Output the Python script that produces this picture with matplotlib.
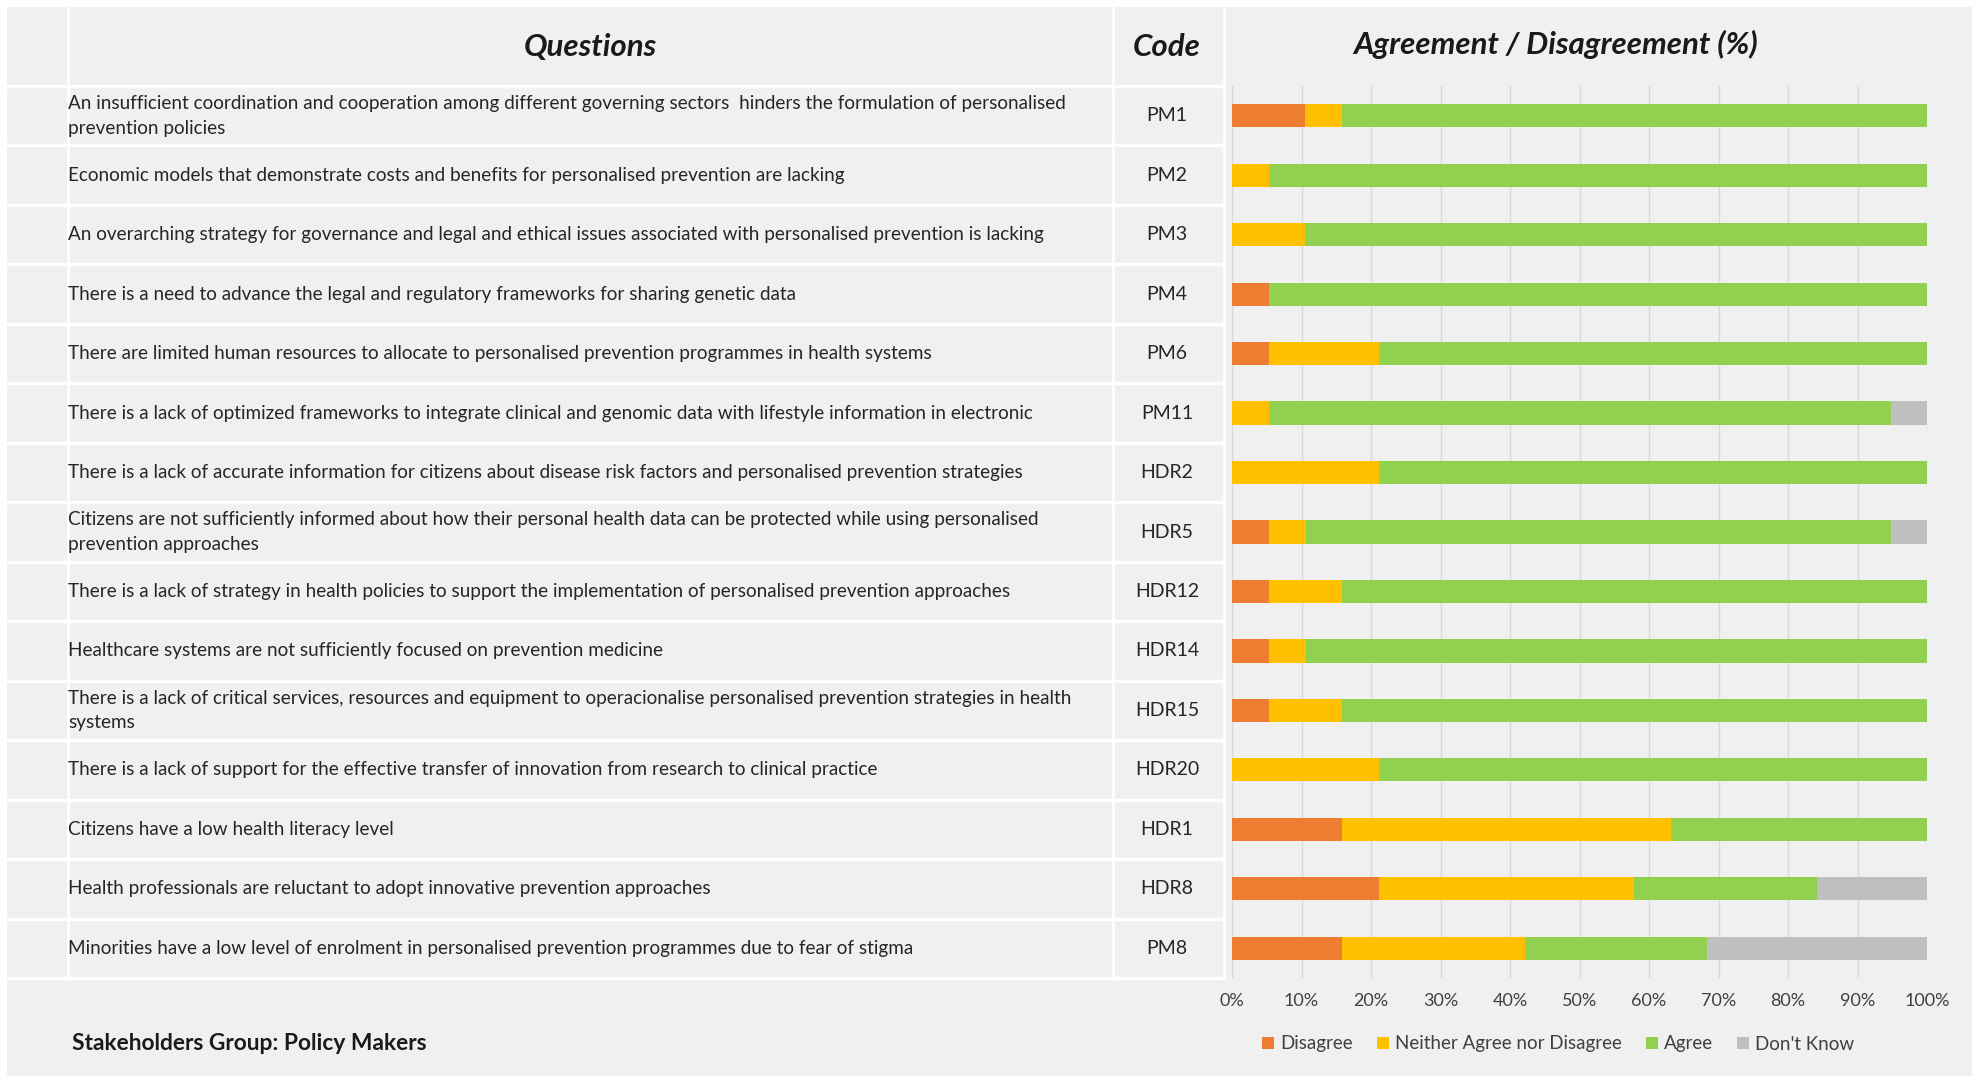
import numpy as np
import matplotlib
matplotlib.use('Agg')
import matplotlib.pyplot as plt
from matplotlib import transforms
from matplotlib.lines import Line2D
from matplotlib.patches import Rectangle, Patch

plt.rcParams['font.family'] = ['Lato', 'DejaVu Sans']

# survey statements, their codes and answer shares (%)
questions = [
    "An insufficient coordination and cooperation among different governing sectors  hinders the formulation of personalised\nprevention policies",
    "Economic models that demonstrate costs and benefits for personalised prevention are lacking",
    "An overarching strategy for governance and legal and ethical issues associated with personalised prevention is lacking",
    "There is a need to advance the legal and regulatory frameworks for sharing genetic data",
    "There are limited human resources to allocate to personalised prevention programmes in health systems",
    "There is a lack of optimized frameworks to integrate clinical and genomic data with lifestyle information in electronic",
    "There is a lack of accurate information for citizens about disease risk factors and personalised prevention strategies",
    "Citizens are not sufficiently informed about how their personal health data can be protected while using personalised\nprevention approaches",
    "There is a lack of strategy in health policies to support the implementation of personalised prevention approaches",
    "Healthcare systems are not sufficiently focused on prevention medicine",
    "There is a lack of critical services, resources and equipment to operacionalise personalised prevention strategies in health\nsystems",
    "There is a lack of support for the effective transfer of innovation from research to clinical practice",
    "Citizens have a low health literacy level",
    "Health professionals are reluctant to adopt innovative prevention approaches",
    "Minorities have a low level of enrolment in personalised prevention programmes due to fear of stigma",
]
codes = ["PM1", "PM2", "PM3", "PM4", "PM6", "PM11", "HDR2", "HDR5", "HDR12",
         "HDR14", "HDR15", "HDR20", "HDR1", "HDR8", "PM8"]

disagree = [10.5, 0, 0, 5.3, 5.3, 0, 0, 5.3, 5.3, 5.3, 5.3, 0, 15.8, 21.1, 15.8]
neutral = [5.3, 5.3, 10.5, 0, 15.8, 5.3, 21.1, 5.3, 10.5, 5.3, 10.5, 21.1, 47.4, 36.8, 26.3]
agree = [84.2, 94.7, 89.5, 94.7, 78.9, 89.5, 78.9, 84.2, 84.2, 89.5, 84.2, 78.9, 36.8, 26.3, 26.3]
dont_know = [0, 0, 0, 0, 0, 5.3, 0, 5.3, 0, 0, 0, 0, 0, 15.8, 31.6]

series_names = ["Disagree", "Neither Agree nor Disagree", "Agree", "Don't Know"]
series_colors = ["#ED7D31", "#FFC000", "#92D050", "#BFBFBF"]

W, H = 1976, 1078


def px(x):
    return x / W


def py(y):
    return 1 - y / H


fig = plt.figure(figsize=(W / 100, H / 100), dpi=100, facecolor='white')
fig.patches.append(Rectangle((px(7), py(1076)), px(1972) - px(7), py(7) - py(1076),
                             transform=fig.transFigure, facecolor='#f0f0f0',
                             edgecolor='none', zorder=-10))

top, bottom = 86, 978
ax = fig.add_axes([px(1232), py(bottom), px(1927) - px(1232), (bottom - top) / H])
ax.set_facecolor('none')

y = np.arange(len(codes))
left = np.zeros(len(codes))
for vals, name, col in zip([disagree, neutral, agree, dont_know], series_names, series_colors):
    vals = np.array(vals)
    ax.barh(y, vals, left=left, height=0.39, color=col, label=name)
    left += vals

ax.set_xlim(0, 100)
ax.set_ylim(len(codes) - 0.5, -0.5)
ax.set_xticks(range(0, 101, 10))
ax.set_xticklabels([f"{v}%" for v in range(0, 101, 10)], fontsize=13, color='#404040')
ax.set_yticks([])
ax.tick_params(axis='x', length=0, pad=11)
ax.grid(axis='x', color='#d9d9d9', lw=1)
ax.set_axisbelow(True)
for s in ax.spines.values():
    s.set_visible(False)

# table part: x in figure space, y follows the bar rows
trans = transforms.blended_transform_factory(fig.transFigure, ax.transData)
for i, (q, c) in enumerate(zip(questions, codes)):
    fig.text(px(68), i, q, transform=trans, ha='left', va='center',
             fontsize=13.6, color='#262626', linespacing=1.55)
    fig.text(px(1167), i, c, transform=trans, ha='center', va='center',
             fontsize=14, color='#262626')

for b in np.arange(-0.5, len(codes)):
    fig.add_artist(Line2D([px(8), px(1224)], [b, b], transform=trans,
                          color='white', lw=2.5))
for xv in [68, 1113, 1224]:
    fig.add_artist(Line2D([px(xv), px(xv)], [py(7), py(bottom)],
                          transform=fig.transFigure, color='white', lw=2))

hdr = dict(ha='center', va='center', fontsize=22.5, fontweight='bold',
           fontstyle='italic', color='#1a1a1a')
fig.text(px(590), py(47), "Questions", **hdr)
fig.text(px(1167), py(47), "Code", **hdr)
fig.text(px(1556), py(44), "Agreement / Disagreement (%)", **hdr)

fig.text(px(72), py(1044), "Stakeholders Group: Policy Makers", ha='left', va='center',
         fontsize=16.4, fontweight='bold', color='#1a1a1a')

handles = [Patch(facecolor=c, edgecolor='none') for c in series_colors]
fig.legend(handles, series_names, loc='center', bbox_to_anchor=(px(1558), py(1044)),
           ncol=4, frameon=False, fontsize=13.5, handlelength=0.65, handleheight=0.65,
           handletextpad=0.3, columnspacing=1.3, labelcolor='#404040')

fig.savefig('out.png', dpi=100, facecolor='white')
